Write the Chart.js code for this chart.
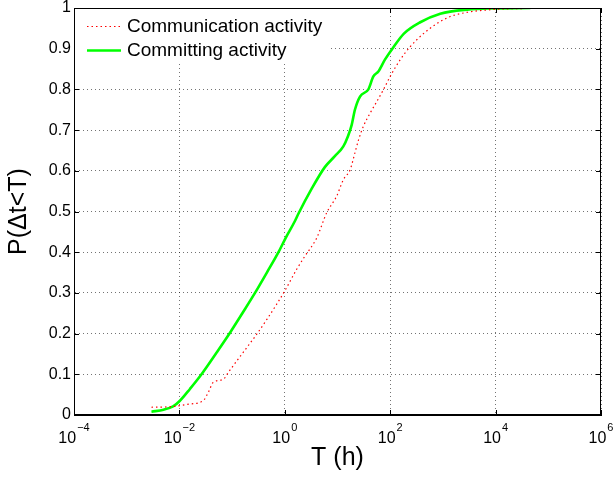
<!DOCTYPE html>
<html>
<head>
<meta charset="utf-8">
<script src="https://cdn.jsdelivr.net/npm/chart.js@4.4.1/dist/chart.umd.min.js"></script>
<style>
  html, body { margin: 0; padding: 0; background: #fff; }
  #wrap { width: 615px; height: 481px; }
</style>
</head>
<body>
<div id="wrap"><canvas id="cdf"></canvas></div>
<script>
// CDF of inter-event times (T in hours)
var commTimes = [0.00295, 0.00794, 0.01585, 0.0282, 0.0355, 0.0437, 0.0684, 0.0851, 0.123, 0.191,
   0.295, 0.457, 0.700, 1.0, 1.68, 2.40, 4.03, 6.24, 9.66, 12.9, 17.4, 21.4, 25.1, 30.9, 41.7,
   55.6, 74.1, 100, 155, 240, 427, 776, 1380, 3090, 6760, 16200, 79400];
var commProb = [0.019, 0.021, 0.027, 0.035, 0.056, 0.08, 0.088, 0.105, 0.133, 0.166,
   0.199, 0.235, 0.272, 0.305, 0.358, 0.39, 0.435, 0.497, 0.538, 0.578, 0.603, 0.644, 0.676, 0.709, 0.742,
   0.77, 0.799, 0.832, 0.873, 0.905, 0.937, 0.962, 0.979, 0.99, 0.995, 0.998, 0.999];

var commitTimes = [0.00295, 0.00501, 0.00759, 0.01023, 0.01585, 0.0263, 0.0513, 0.0912, 0.162, 0.272,
   0.457, 0.759, 1.047, 1.549, 1.82, 3.24, 5.75, 8.91, 12.9, 15.8, 18.6, 21.4, 26.9, 38.5, 47.9,
   59.6, 79.4, 110, 182, 372, 891, 2880, 10500, 45700];
var commitProb = [0.008, 0.013, 0.021, 0.035, 0.064, 0.10, 0.154, 0.202, 0.253, 0.30,
   0.35, 0.40, 0.436, 0.476, 0.495, 0.556, 0.609, 0.636, 0.66, 0.685, 0.713, 0.75, 0.783, 0.80, 0.832,
   0.844, 0.873, 0.90, 0.937, 0.965, 0.986, 0.996, 0.999, 1.0];

var seriesNames = ['Communication activity', 'Committing activity'];
var xTickValues = [1e-4, 1e-2, 1e0, 1e2, 1e4, 1e6];

var FONT = "'Liberation Sans', Arial, Helvetica, sans-serif";

function toPoints(xs, ys) {
   return xs.map(function (v, i) { return { x: v, y: ys[i] }; });
}

// MATLAB style box, inward ticks, 10^n labels and legend
var matlabAxes = {
   id: 'matlabAxes',
   afterDraw: function (chart) {
      var ctx = chart.ctx, a = chart.chartArea;
      var xs = chart.scales.x, ys = chart.scales.y;
      ctx.save();
      ctx.strokeStyle = '#000';
      ctx.lineWidth = 1;
      ctx.strokeRect(Math.round(a.left) + 0.5, Math.round(a.top) + 0.5,
         Math.round(a.right - a.left) - 1, Math.round(a.bottom - a.top) - 1);
      ctx.beginPath();
      xs.ticks.forEach(function (t) {
         var px = Math.round(xs.getPixelForValue(t.value)) + 0.5;
         ctx.moveTo(px, a.bottom); ctx.lineTo(px, a.bottom - 5);
         ctx.moveTo(px, a.top); ctx.lineTo(px, a.top + 5);
      });
      ys.ticks.forEach(function (t) {
         var py = Math.round(ys.getPixelForValue(t.value)) + 0.5;
         ctx.moveTo(a.left, py); ctx.lineTo(a.left + 5, py);
         ctx.moveTo(a.right, py); ctx.lineTo(a.right - 5, py);
      });
      ctx.stroke();

      // x tick labels as 10 with a raised exponent
      ctx.fillStyle = '#000';
      ctx.textBaseline = 'alphabetic';
      ctx.textAlign = 'left';
      xs.ticks.forEach(function (t) {
         var e = Math.round(Math.log10(t.value));
         var sup = e < 0 ? '\u2212' + Math.abs(e) : String(e);
         ctx.font = '16px ' + FONT;
         var wb = ctx.measureText('10').width;
         ctx.font = '11px ' + FONT;
         var ws = ctx.measureText(sup).width;
         var px = xs.getPixelForValue(t.value);
         var x0 = px - (wb + 1 + ws) / 2;
         ctx.font = '16px ' + FONT;
         ctx.fillText('10', x0, a.bottom + 28);
         ctx.font = '11px ' + FONT;
         ctx.fillText(sup, x0 + wb + 1, a.bottom + 16);
      });

      // legend
      ctx.fillStyle = '#fff';
      ctx.fillRect(a.left + 1, a.top + 1, 254, 55);
      chart.data.datasets.forEach(function (ds, i) {
         var yy = 26.5 + i * 24;
         ctx.beginPath();
         ctx.strokeStyle = ds.borderColor;
         ctx.lineWidth = ds.borderWidth;
         ctx.setLineDash(ds.borderDash || []);
         ctx.moveTo(87, yy); ctx.lineTo(121, yy);
         ctx.stroke();
         ctx.setLineDash([]);
         ctx.fillStyle = '#000';
         ctx.font = '19px ' + FONT;
         ctx.textBaseline = 'middle';
         ctx.fillText(ds.label, 127, yy + 0.5);
      });
      ctx.restore();
   }
};

new Chart('cdf', {
   type: 'line',
   data: {
      datasets: [
         {
            label: seriesNames[0],
            data: toPoints(commTimes, commProb),
            borderColor: 'rgb(255,0,0)',
            borderWidth: 1.2,
            borderDash: [1.5, 3],
            pointRadius: 0,
            cubicInterpolationMode: 'monotone',
            fill: false,
         },
         {
            label: seriesNames[1],
            data: toPoints(commitTimes, commitProb),
            borderColor: 'rgb(0,255,0)',
            borderWidth: 2.6,
            pointRadius: 0,
            cubicInterpolationMode: 'monotone',
            fill: false,
         },
      ],
   },
   plugins: [matlabAxes],
   options: {
      responsive: true,
      maintainAspectRatio: false,
      animation: false,
      layout: { padding: { left: 0, right: 14, top: 8, bottom: 0 } },
      plugins: {
         legend: { display: false },
         tooltip: { enabled: false },
      },
      scales: {
         x: {
            type: 'logarithmic',
            min: 1e-4,
            max: 1e6,
            afterBuildTicks: function (scale) {
               scale.ticks = xTickValues.map(function (v) { return { value: v }; });
            },
            afterFit: function (scale) { scale.height = 66; },
            ticks: { display: false },
            grid: { color: 'rgba(0,0,0,0.55)', drawTicks: false },
            border: { display: true, color: '#000', width: 1, dash: [1, 3] },
            title: {
               display: true,
               text: 'T (h)',
               color: '#000',
               font: { family: FONT, size: 25 },
               padding: { top: 0, bottom: 8 },
            },
         },
         y: {
            min: 0,
            max: 1,
            afterFit: function (scale) { scale.width = 74; },
            ticks: {
               stepSize: 0.1,
               color: '#000',
               padding: 3,
               font: { family: FONT, size: 16, lineHeight: 0.6 },
               callback: function (v) { return String(+v.toFixed(1)); },
            },
            grid: { color: 'rgba(0,0,0,0.55)', drawTicks: false },
            border: { display: true, color: '#000', width: 1, dash: [1, 3] },
            title: {
               display: true,
               text: 'P(\u0394t<T)',
               color: '#000',
               font: { family: FONT, size: 25 },
               padding: { top: 4, bottom: 0 },
            },
         },
      },
   },
});
</script>
</body>
</html>
